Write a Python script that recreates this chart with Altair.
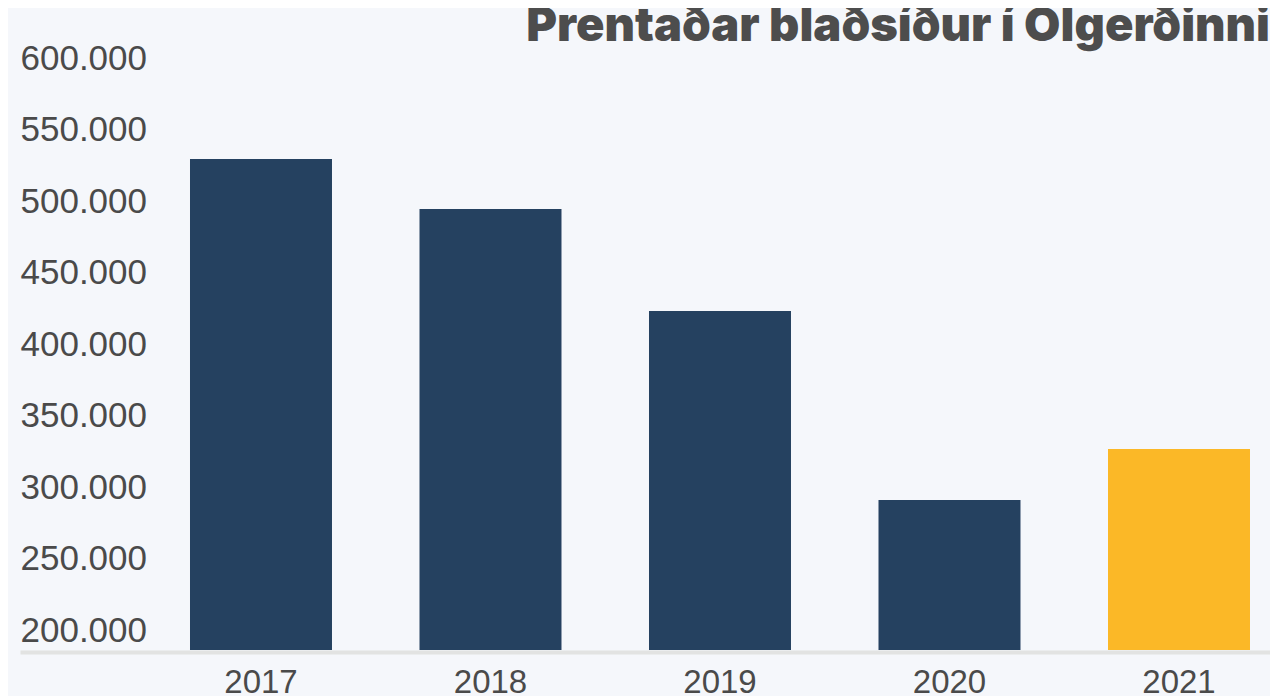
import altair as alt
import pandas as pd

# ---- data ----
years = ["2017", "2018", "2019", "2020", "2021"]
pages = [528300, 493400, 422000, 289900, 325500]
groups = ["fyrri ár", "fyrri ár", "fyrri ár", "fyrri ár", "2021"]
y_ticks = [200000, 250000, 300000, 350000, 400000, 450000, 500000, 550000, 600000]
title_text = ["Prentaðar blaðsíður í Ölgerðinni"]

df = pd.DataFrame({"year": years, "pages": pages, "group": groups})
title_df = pd.DataFrame({"t": title_text})

Y_MIN = 185000
Y_MAX = 600000
TEXT = "#4a4a4a"
FONT = "Liberation Sans"

bars = alt.Chart(df).mark_bar().encode(
    x=alt.X(
        "year:N",
        sort=years,
        scale=alt.Scale(paddingInner=0.3813, paddingOuter=0.41395, align=0.8947),
        axis=alt.Axis(
            title=None, labelAngle=0, domainColor="#e2e3e2", domainWidth=4,
            offset=2, ticks=False, tickSize=0, labelPadding=14,
            labelFontSize=33, labelColor=TEXT, labelFont=FONT, grid=False,
        ),
    ),
    y=alt.Y(
        "pages:Q",
        scale=alt.Scale(domain=[Y_MIN, Y_MAX], nice=False, zero=False),
        axis=alt.Axis(
            title=None, values=y_ticks,
            labelExpr="replace(format(datum.value, ','), ',', '.')",
            orient="left", labelAlign="left", labelBaseline="middle",
            labelPadding=0, ticks=False, tickSize=0, domain=False, grid=False,
            labelFlush=False, labelOverlap=False, labelOffset=1.5,
            labelFontSize=35, labelColor=TEXT, labelFont=FONT,
        ),
    ),
    y2=alt.datum(Y_MIN),
    color=alt.Color(
        "group:N",
        scale=alt.Scale(domain=["fyrri ár", "2021"], range=["#254160", "#fbb827"]),
        legend=None,
    ),
)

title = alt.Chart(title_df).mark_text(
    align="right", baseline="alphabetic", font="Inter", fontSize=47,
    fontWeight=900, color="#4d4d4d",
).encode(x=alt.value(1250), y=alt.value(-16), text="t:N")

chart = alt.layer(bars, title).properties(
    width=1250,
    height=593.5,
    padding={"left": 12, "top": 48.5, "right": 0, "bottom": 46},
    autosize=alt.AutoSizeParams(type="none"),
    background="#f5f7fb",
).configure_view(stroke=None)

chart.save("out.html", embed_options={"renderer": "svg", "actions": False})
